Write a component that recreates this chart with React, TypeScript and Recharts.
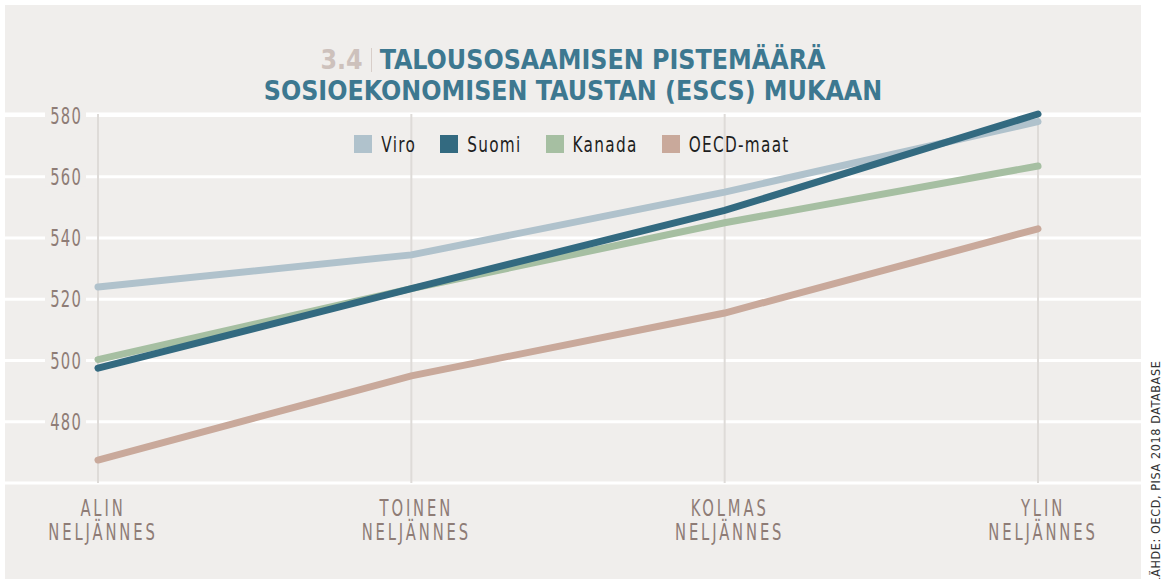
import React from 'react';
import { LineChart, Line, XAxis, YAxis, CartesianGrid, Legend, ReferenceLine } from 'recharts';

const categories = ['ALIN|NELJÄNNES', 'TOINEN|NELJÄNNES', 'KOLMAS|NELJÄNNES', 'YLIN|NELJÄNNES'];
const viro = [524, 534.5, 555, 578];
const suomi = [497.5, 523.5, 549, 580.5];
const kanada = [500.3, 523.5, 545, 563.5];
const oecd = [467.5, 495, 515.5, 543];
const yTicks = [460, 480, 500, 520, 540, 560, 580];

const series = [
  { key: 'viro', name: 'Viro', color: '#b0c2cc' },
  { key: 'kanada', name: 'Kanada', color: '#a6bfa2' },
  { key: 'oecd', name: 'OECD-maat', color: '#c9a99b' },
  { key: 'suomi', name: 'Suomi', color: '#336a80' },
];
const legendOrder = ['viro', 'suomi', 'kanada', 'oecd'];

const data = categories.map((c, i) => ({
  cat: c,
  viro: viro[i],
  suomi: suomi[i],
  kanada: kanada[i],
  oecd: oecd[i],
}));

const BG = '#f0eeec';
const FONT = '"DejaVu Sans Condensed", "Liberation Sans", sans-serif';
const TICK = '#8e7c76';

const YTick = (props: any) => {
  const { y, payload } = props;
  if (payload.value === 460) return null;
  // label sits over the white gridline on a patch of background
  return (
    <g>
      <rect x={45} y={y - 10} width={41} height={20} fill={BG} />
      <g transform={`translate(82,${y + 8}) scale(0.82,1.15)`}>
        <text x={0} y={0} textAnchor="end" fill={TICK} fontFamily={FONT} fontSize={20} letterSpacing={1.5}>
          {payload.value}
        </text>
      </g>
    </g>
  );
};

const XTick = (props: any) => {
  const { x, y, payload } = props;
  const [a, b] = String(payload.value).split('|');
  return (
    <g transform={`translate(${x + 5},${y}) scale(0.82,1.12)`}>
      <text textAnchor="middle" fill={TICK} fontFamily={FONT} fontSize={20} letterSpacing={3.5}>
        <tspan x={0} y={22}>{a}</tspan>
        <tspan x={0} y={43.5}>{b}</tspan>
      </text>
    </g>
  );
};

const LegendContent = () => (
  <div style={{ display: 'flex', justifyContent: 'center', fontFamily: FONT, fontSize: 17, letterSpacing: 1.3, color: '#1e1e1e', paddingLeft: 3 }}>
    {legendOrder.map((k, i) => {
      const s = series.find((x) => x.key === k)!;
      return (
        <div key={k} style={{ display: 'flex', alignItems: 'center', marginLeft: i === 0 ? 0 : 24 }}>
          <span style={{ width: 18, height: 18, background: s.color, marginRight: 9, display: 'inline-block' }} />
          <span style={{ display: 'inline-block', transform: 'scaleY(1.25)' }}>{s.name}</span>
        </div>
      );
    })}
  </div>
);

export default function App() {
  return (
    <div style={{ position: 'absolute', left: 0, top: 0, width: 1169, height: 579, background: '#fff', overflow: 'hidden' }}>
      <div style={{ position: 'absolute', left: 5, top: 5, width: 1136, height: 574, background: BG }} />
      <div
        style={{
          position: 'absolute',
          left: 5,
          width: 1136,
          top: 44,
          textAlign: 'center',
          fontFamily: FONT,
          fontWeight: 'bold',
          fontSize: 26.5,
          lineHeight: '31px',
          color: '#3d7890',
        }}
      >
        <div>
          <span style={{ color: '#cdc1bc' }}>3.4</span>
          <span style={{ display: 'inline-block', width: 1, height: 24, background: '#d8cec9', margin: '0 8px', verticalAlign: '-3px' }} />
          TALOUSOSAAMISEN PISTEMÄÄRÄ
        </div>
        <div>SOSIOEKONOMISEN TAUSTAN (ESCS) MUKAAN</div>
      </div>
      <div style={{ position: 'absolute', left: 0, top: 0 }}>
        <LineChart width={1141} height={579} data={data} margin={{ top: 114, right: 0, bottom: 66, left: 0 }}>
          <CartesianGrid stroke="#ffffff" strokeWidth={3} vertical={false} />
          {categories.map((c) => (
            <ReferenceLine key={c} x={c} stroke="#dedbd8" strokeWidth={2} />
          ))}
          <XAxis
            dataKey="cat"
            axisLine={false}
            tickLine={false}
            interval={0}
            height={30}
            padding={{ left: 93, right: 103 }}
            tick={<XTick />}
          />
          <YAxis
            domain={[460, 580]}
            ticks={yTicks}
            width={5}
            axisLine={false}
            tickLine={false}
            tick={<YTick />}
          />
          <Legend
            verticalAlign="middle"
            align="center"
            content={<LegendContent />}
            wrapperStyle={{ top: 134, left: 0, width: 1141 }}
          />
          {series.map((s) => (
            <Line
              key={s.key}
              dataKey={s.key}
              name={s.name}
              stroke={s.color}
              strokeWidth={7}
              strokeLinecap="round"
              dot={false}
              activeDot={false}
              isAnimationActive={false}
            />
          ))}
        </LineChart>
      </div>
      <div
        style={{
          position: 'absolute',
          left: 1147,
          top: 584,
          transform: 'rotate(-90deg)',
          transformOrigin: '0 0',
          whiteSpace: 'nowrap',
          fontFamily: FONT,
          fontSize: 12.5,
          letterSpacing: 0.6,
          color: '#333',
          lineHeight: '18px',
        }}
      >
        LÄHDE: OECD, PISA 2018 DATABASE
      </div>
    </div>
  );
}
